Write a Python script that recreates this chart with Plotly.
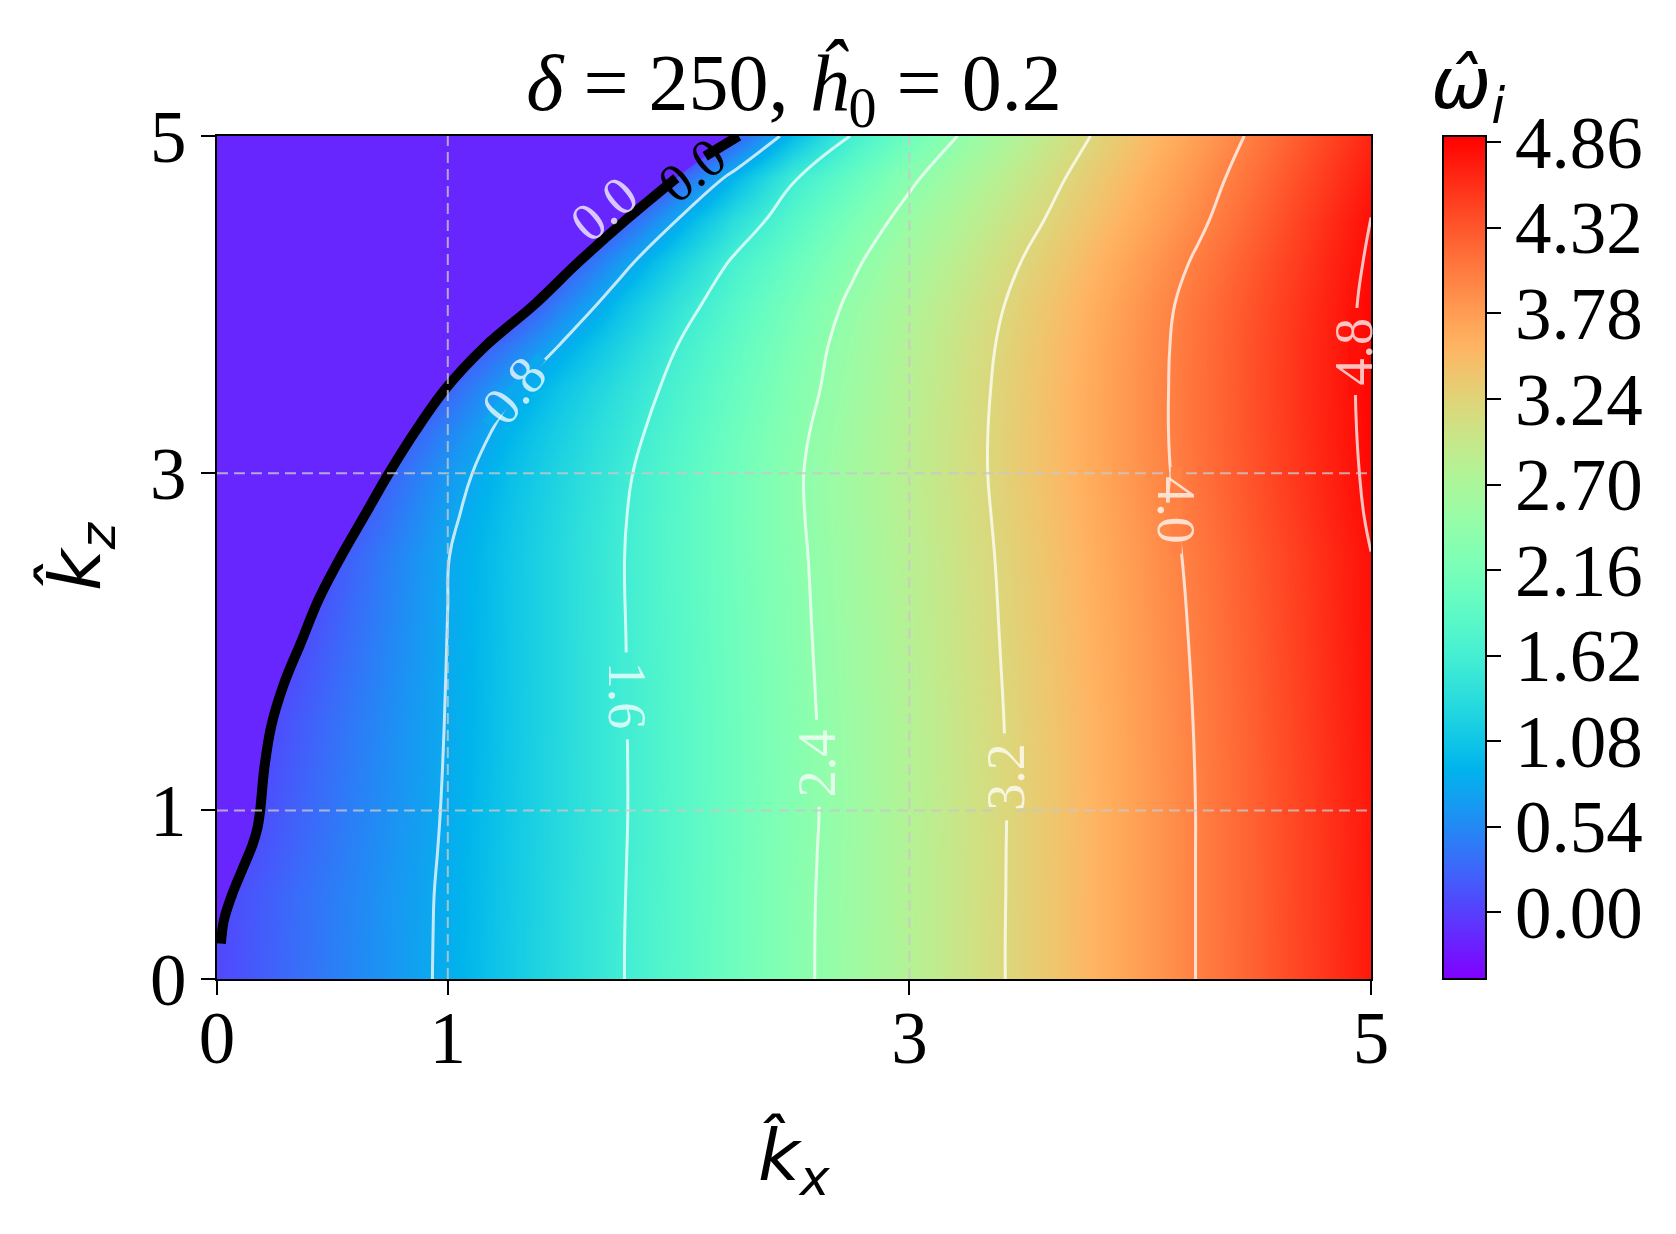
import math
import plotly.graph_objects as go

# ---------------- data ----------------
kx = [0.0, 0.25, 0.5, 0.75, 1.0, 1.25, 1.5, 1.75, 2.0, 2.25, 2.5,
      2.75, 3.0, 3.25, 3.5, 3.75, 4.0, 4.25, 4.5, 4.75, 5.0]
kz = [0.0, 0.25, 0.5, 0.75, 1.0, 1.5, 2.0, 2.5, 2.75, 3.0, 3.25, 3.5,
      3.75, 4.0, 4.25, 4.5, 4.75, 5.0]

# growth rate omega_i on the unstable side, one row per kz value, one column per kx value
omega_i = [
    [0.06, 0.256, 0.452, 0.649, 0.855, 1.099, 1.342, 1.585, 1.828, 2.070, 2.313, 2.555, 2.798, 3.040, 3.282, 3.525, 3.767, 4.010, 4.252, 4.495, 4.737],
    [0.055, 0.250, 0.448, 0.646, 0.853, 1.097, 1.340, 1.584, 1.827, 2.069, 2.312, 2.555, 2.797, 3.040, 3.282, 3.525, 3.767, 4.010, 4.252, 4.496, 4.740],
    [0.049, 0.246, 0.444, 0.642, 0.849, 1.093, 1.336, 1.580, 1.823, 2.066, 2.309, 2.551, 2.794, 3.037, 3.280, 3.524, 3.767, 4.010, 4.254, 4.498, 4.743],
    [-0.02, 0.194, 0.407, 0.621, 0.839, 1.085, 1.330, 1.575, 1.818, 2.060, 2.302, 2.545, 2.790, 3.035, 3.279, 3.523, 3.766, 4.010, 4.255, 4.500, 4.746],
    [-0.067, 0.156, 0.38, 0.603, 0.829, 1.077, 1.324, 1.571, 1.812, 2.053, 2.294, 2.538, 2.785, 3.032, 3.278, 3.522, 3.766, 4.010, 4.257, 4.503, 4.750],
    [-0.145, 0.095, 0.335, 0.575, 0.815, 1.068, 1.320, 1.573, 1.817, 2.060, 2.303, 2.548, 2.795, 3.042, 3.288, 3.532, 3.776, 4.020, 4.270, 4.520, 4.770],
    [-0.318, -0.037, 0.244, 0.525, 0.805, 1.063, 1.320, 1.578, 1.826, 2.073, 2.321, 2.568, 2.815, 3.062, 3.307, 3.551, 3.795, 4.040, 4.290, 4.540, 4.790],
    [-0.497, -0.174, 0.148, 0.471, 0.793, 1.058, 1.321, 1.584, 1.836, 2.088, 2.339, 2.588, 2.835, 3.082, 3.328, 3.575, 3.822, 4.068, 4.310, 4.553, 4.795],
    [-0.727, -0.360, 0.007, 0.374, 0.741, 1.028, 1.300, 1.572, 1.834, 2.094, 2.353, 2.603, 2.850, 3.097, 3.345, 3.595, 3.845, 4.093, 4.339, 4.584, 4.830],
    [-0.93, -0.531, -0.133, 0.266, 0.664, 0.985, 1.264, 1.544, 1.816, 2.086, 2.357, 2.610, 2.860, 3.110, 3.362, 3.615, 3.869, 4.117, 4.361, 4.605, 4.849],
    [-1.243, -0.806, -0.370, 0.067, 0.503, 0.894, 1.188, 1.482, 1.768, 2.048, 2.327, 2.591, 2.849, 3.107, 3.364, 3.621, 3.877, 4.128, 4.373, 4.619, 4.860],
    [-1.5, -1.106, -0.648, -0.19, 0.268, 0.727, 1.071, 1.393, 1.703, 1.989, 2.274, 2.551, 2.822, 3.092, 3.356, 3.616, 3.875, 4.129, 4.378, 4.626, 4.865],
    [-1.5, -1.436, -0.978, -0.52, -0.062, 0.397, 0.846, 1.231, 1.612, 1.920, 2.228, 2.521, 2.795, 3.069, 3.338, 3.603, 3.868, 4.125, 4.375, 4.625, 4.865],
    [-1.5, -1.5, -1.5, -1.217, -0.644, -0.071, 0.502, 1.013, 1.458, 1.819, 2.142, 2.456, 2.738, 3.020, 3.298, 3.570, 3.842, 4.106, 4.357, 4.609, 4.860],
    [-1.5, -1.5, -1.5, -1.5, -1.03, -0.461, 0.112, 0.685, 1.200, 1.668, 2.007, 2.346, 2.643, 2.933, 3.222, 3.496, 3.770, 4.042, 4.307, 4.572, 4.837],
    [-1.5, -1.5, -1.5, -1.5, -1.5, -1.05, -0.425, 0.200, 0.822, 1.378, 1.818, 2.182, 2.518, 2.812, 3.106, 3.389, 3.667, 3.944, 4.230, 4.518, 4.805],
    [-1.5, -1.5, -1.5, -1.5, -1.5, -1.5, -1.1, -0.41, 0.278, 0.950, 1.575, 1.962, 2.339, 2.667, 2.984, 3.291, 3.577, 3.863, 4.151, 4.440, 4.730],
    [-1.5, -1.5, -1.5, -1.5, -1.5, -1.5, -1.5, -1.32, -0.541, 0.239, 0.981, 1.617, 2.052, 2.469, 2.814, 3.158, 3.463, 3.761, 4.059, 4.355, 4.650],
]

# neutral curve omega_i = 0 (edge of the stable region)
neutral_kz = [0.21, 0.35, 0.50, 0.65, 0.80, 0.90, 1.00, 1.25, 1.50, 1.75, 2.00, 2.25,
              2.50, 2.75, 3.00, 3.25, 3.50, 3.75, 4.00, 4.25, 4.50, 4.75, 4.88, 5.00]
neutral_kx = [0.017, 0.030, 0.065, 0.110, 0.155, 0.176, 0.187, 0.205, 0.235, 0.290, 0.365, 0.440,
              0.535, 0.640, 0.745, 0.860, 0.990, 1.160, 1.375, 1.565, 1.770, 1.990, 2.115, 2.260]

axis_ticks = [0, 1, 3, 5]
axis_range = [0, 5]
cbar_ticks = [0.00, 0.54, 1.08, 1.62, 2.16, 2.70, 3.24, 3.78, 4.32, 4.86]
cbar_ticktext = ["0.00", "0.54", "1.08", "1.62", "2.16", "2.70", "3.24", "3.78", "4.32", "4.86"]
level_start, level_end, level_step = 0.8, 4.8, 0.8
z_low, z_high = -0.42, 4.90
negative_plateau = -0.17

title_text = "<i>δ</i> = 250, <i>ĥ</i><sub>0</sub> = 0.2"
xlabel = "<i>k\u0302</i><sub><i>x</i></sub>"
ylabel = "<i>k\u0302</i><sub><i>z</i></sub>"
cbar_label = "<i>ω\u0302</i><sub><i>i</i></sub>"

# ---------------- style ----------------
def rainbow_rgb(t):
    t = min(1.0, max(0.0, t))
    r = min(1.0, abs(2 * t - 0.5))
    g = math.sin(math.pi * t)
    b = max(0.0, math.cos(math.pi * t / 2))
    return round(255 * r), round(255 * g), round(255 * b)

def rainbow(t):
    return "rgb(%d,%d,%d)" % rainbow_rgb(t)

def level_color(v):
    return rainbow((v - z_low) / (z_high - z_low))

n_stops = 40
colorscale = [[i / n_stops, rainbow(i / n_stops)] for i in range(n_stops + 1)]
neg_color = level_color(negative_plateau)

SERIF = "Liberation Serif"
SANS = "DejaVu Sans"
FS = 73
LABEL_FS = 54
WHITE_A = "rgba(255,255,255,0.75)"

W, H = 1676, 1234
OFF = 8  # page offset of the figure (default body margin)
PX0, PX1, PY0, PY1 = 217, 1371, 136, 979   # plot area in page pixels
L, T = PX0 - OFF, PY0 - OFF
R, B = W - (PX1 - OFF), H - (PY1 - OFF)
pw, ph = PX1 - PX0, PY1 - PY0

def px_x(X):
    return (X - PX0) / pw

def px_y(Y):
    return (PY1 - Y) / ph

fig = go.Figure()

fig.add_trace(go.Heatmap(
    x=kx, y=kz, z=omega_i, zsmooth="best",
    colorscale=colorscale, zmin=z_low, zmax=z_high,
    colorbar=dict(
        x=px_x(1443), xanchor="left", xpad=0,
        y=0.5, yanchor="middle", len=1, lenmode="fraction", ypad=0,
        thickness=43, thicknessmode="pixels",
        outlinewidth=2, outlinecolor="black",
        ticks="outside", ticklen=14, tickwidth=2, tickcolor="black",
        tickvals=cbar_ticks, ticktext=cbar_ticktext,
        tickfont=dict(family=SERIF, size=FS, color="black"),
    ),
    hoverinfo="skip",
))

# stable region (omega_i < 0), bounded by the neutral curve
poly_x = neutral_kx + [axis_range[0], axis_range[0]]
poly_z = neutral_kz + [axis_range[1], neutral_kz[0]]
fig.add_trace(go.Scatter(
    x=poly_x, y=poly_z, mode="lines", fill="toself", fillcolor=neg_color,
    line=dict(width=0, color=neg_color, shape="spline", smoothing=0.6), hoverinfo="skip",
))

# white iso-lines
fig.add_trace(go.Contour(
    x=kx, y=kz, z=omega_i,
    contours=dict(start=level_start, end=level_end, size=level_step,
                  coloring="none", showlabels=False),
    line=dict(color=WHITE_A, width=3, smoothing=1.3),
    showscale=False, hoverinfo="skip",
))

# neutral curve (black), with a break where its label sits
gap_lo, gap_hi = 4.75, 4.88
lower = [(x, z) for x, z in zip(neutral_kx, neutral_kz) if z <= gap_lo]
upper = [(x, z) for x, z in zip(neutral_kx, neutral_kz) if z >= gap_hi]
for seg in (lower, upper):
    fig.add_trace(go.Scatter(
        x=[p[0] for p in seg], y=[p[1] for p in seg], mode="lines",
        line=dict(color="black", width=10, shape="spline", smoothing=1.0),
        hoverinfo="skip",
    ))

shapes = []
for v in axis_ticks:
    if axis_range[0] < v < axis_range[1]:
        for orient in ("v", "h"):
            if orient == "v":
                d = dict(xref="x", yref="paper", x0=v, x1=v, y0=0, y1=1)
            else:
                d = dict(xref="paper", yref="y", x0=0, x1=1, y0=v, y1=v)
            d.update(type="line", layer="above",
                     line=dict(color="rgba(200,200,200,0.8)", width=2, dash="11px,6px"))
            shapes.append(d)

# contour labels: (level, kx, kz, text angle)
contour_labels = [
    (0.8, 1.285, 3.49, -51),
    (1.6, 1.776, 1.68, 90),
    (2.4, 2.600, 1.28, -90),
    (3.2, 3.415, 1.20, -90),
    (4.0, 4.155, 2.78, 90),
    (4.8, 4.925, 3.72, -90),
]

annotations = []
for lev, ax_, az_, ang in contour_labels:
    # thin mask that opens a gap in the iso-line under the label
    annotations.append(dict(
        text=" ", x=ax_, y=az_, xref="x", yref="y", showarrow=False,
        textangle=ang, xanchor="center", yanchor="middle",
        bgcolor=level_color(lev), width=86, height=10, borderpad=0,
        font=dict(family=SERIF, size=4, color=level_color(lev))))
    annotations.append(dict(
        text="%.1f" % lev, x=ax_, y=az_, xref="x", yref="y", showarrow=False,
        textangle=ang, xanchor="center", yanchor="middle",
        font=dict(family=SERIF, size=LABEL_FS, color=WHITE_A)))
annotations.append(dict(
    text="%.1f" % 0.0, x=1.677, y=4.57, xref="x", yref="y", showarrow=False,
    textangle=-40, font=dict(family=SERIF, size=LABEL_FS, color=WHITE_A)))
annotations.append(dict(
    text="%.1f" % 0.0, x=2.06, y=4.80, xref="x", yref="y", showarrow=False,
    textangle=-38, font=dict(family=SERIF, size=LABEL_FS, color="black")))

annotations += [
    dict(text=cbar_label, xref="paper", yref="paper", x=px_x(1468), y=px_y(88),
         showarrow=False, xanchor="center", yanchor="middle",
         font=dict(family=SANS, size=72, color="black")),
    dict(text=xlabel, xref="paper", yref="paper", x=px_x(794), y=px_y(1160),
         showarrow=False, xanchor="center", yanchor="middle",
         font=dict(family=SANS, size=72, color="black")),
    dict(text=ylabel, xref="paper", yref="paper", x=px_x(80), y=px_y(556),
         showarrow=False, xanchor="center", yanchor="middle", textangle=-90,
         font=dict(family=SANS, size=72, color="black")),
]

fig.update_layout(
    width=W, height=H,
    margin=dict(l=L, r=R, t=T, b=B, autoexpand=False),
    paper_bgcolor="white", plot_bgcolor="white",
    showlegend=False,
    title=dict(text=title_text, x=(794 - OFF) / W, xanchor="center",
               y=1 - (82 - OFF) / H, yanchor="middle",
               font=dict(family=SERIF, size=80, color="black")),
    shapes=shapes,
    annotations=annotations,
    xaxis=dict(range=axis_range, tickvals=axis_ticks, ticks="outside", ticklen=14, tickwidth=2,
               tickcolor="black", showline=True, linewidth=2, linecolor="black", mirror=True,
               showgrid=False, zeroline=False, ticklabelstandoff=-20,
               tickfont=dict(family=SERIF, size=FS, color="black")),
    yaxis=dict(range=axis_range, tickvals=axis_ticks, ticks="outside", ticklen=14, tickwidth=2,
               tickcolor="black", showline=True, linewidth=2, linecolor="black", mirror=True,
               showgrid=False, zeroline=False,
               tickfont=dict(family=SERIF, size=FS, color="black")),
)

fig.write_html("out.html")
